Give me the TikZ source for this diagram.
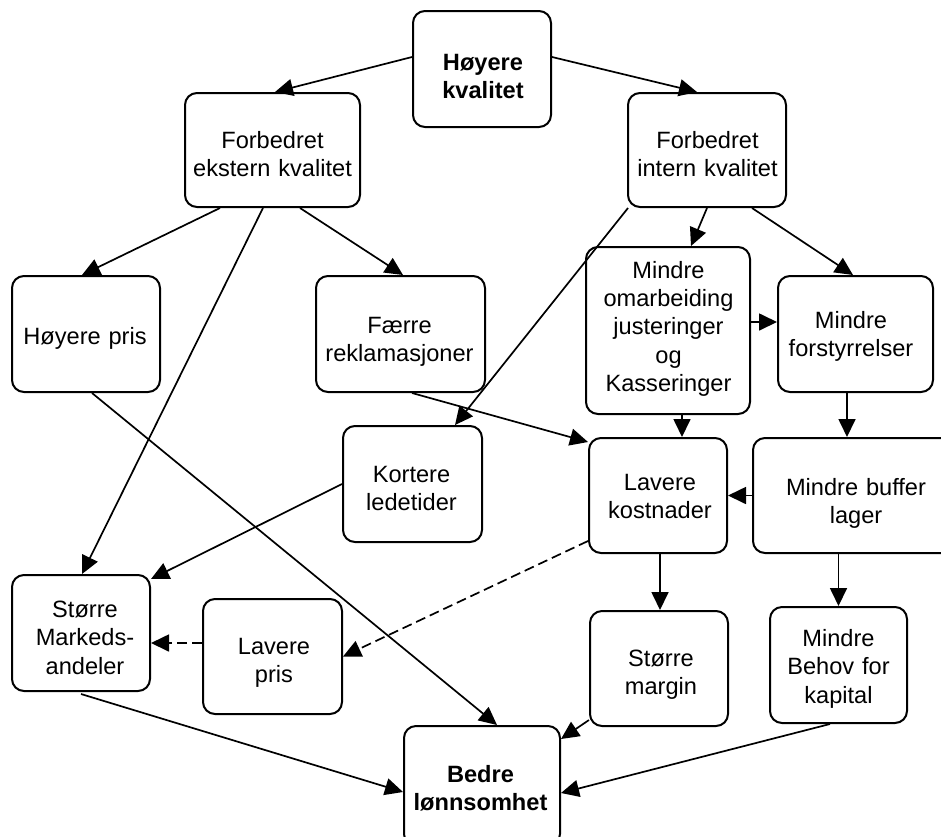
\documentclass[tikz,border=0pt]{standalone}
\usepackage{fontspec}
\setmainfont{Liberation Sans}
\usetikzlibrary{arrows.meta}
\begin{document}
\begin{tikzpicture}[x=1pt,y=-1pt,
  box/.style={draw, line width=2pt, rounded corners=12pt, inner sep=0pt},
  txt/.style={anchor=base, align=center, text width=220pt, inner sep=0pt,
    font=\fontsize{23.6}{28.5}\selectfont},
  btxt/.style={txt, font=\fontsize{23.6}{28}\selectfont\bfseries},
  arr/.style={line width=1.7pt, -{Triangle[length=18pt,width=17pt]}},
  darr/.style={arr, dash pattern=on 10pt off 5pt}]
\useasboundingbox (0,0) rectangle (941,836);

% boxes
\node[box, minimum width=138pt, minimum height=116pt] (hk)  at (482,69) {};
\node[box, minimum width=175pt, minimum height=114pt] (fek) at (272.5,150) {};
\node[box, minimum width=158pt, minimum height=114pt] (fik) at (707,150) {};
\node[box, minimum width=148pt, minimum height=116pt] (hp)  at (86,334) {};
\node[box, minimum width=169pt, minimum height=116pt] (fr)  at (400.5,334) {};
\node[box, minimum width=164pt, minimum height=167pt] (mo)  at (668,330.5) {};
\node[box, minimum width=155pt, minimum height=116pt] (mf)  at (855.5,334) {};
\node[box, minimum width=139pt, minimum height=116pt] (kl)  at (412.5,484) {};
\node[box, minimum width=138pt, minimum height=115pt] (lk)  at (658,495.5) {};
\node[box, minimum width=206pt, minimum height=115pt] (mb)  at (856,495.5) {};
\node[box, minimum width=138pt, minimum height=116pt] (sm)  at (81,633) {};
\node[box, minimum width=139pt, minimum height=115pt] (lp)  at (272.5,656.5) {};
\node[box, minimum width=138pt, minimum height=115pt] (sma) at (659,668.5) {};
\node[box, minimum width=137pt, minimum height=116pt] (mbk) at (838.5,665) {};
\node[box, minimum width=156pt, minimum height=120pt] (bl)  at (482,786) {};

% texts (placed on the baseline of their first line)
\node[btxt] (hk-t)  at (483,70)    {Høyere\\kvalitet};
\node[txt]  (fek-t) at (272.5,148) {Forbedret\\ekstern kvalitet};
\node[txt]  (fik-t) at (707.5,148) {Forbedret\\intern kvalitet};
\node[txt]  (hp-t)  at (85,344)    {Høyere pris};
\node[txt]  (fr-t)  at (399.5,333) {Færre\\reklamasjoner};
\node[txt, font=\fontsize{23.6}{28.4}\selectfont] (mo-t) at (668.5,278)
  {Mindre\\omarbeiding\\justeringer\\og\\Kasseringer};
\node[txt]  (mf-t)  at (851,328)   {Mindre\\forstyrrelser};
\node[txt]  (kl-t)  at (411.5,482) {Kortere\\ledetider};
\node[txt]  (lk-t)  at (660,490)   {Lavere\\kostnader};
\node[txt]  (mb-t)  at (856,495)   {Mindre buffer\\lager};
\node[txt]  (sm-t)  at (85,617)    {Større\\Markeds-\\andeler};
\node[txt]  (lp-t)  at (274,654)   {Lavere\\pris};
\node[txt]  (sma-t) at (661,666)   {Større\\margin};
\node[txt]  (mbk-t) at (838.5,646) {Mindre\\Behov for\\kapital};
\node[btxt] (bl-t)  at (480.5,782) {Bedre\\lønnsomhet};

% connectors
\draw[arr] ([yshift=12pt]hk.west) -- ([xshift=2.5pt]fek.north);
\draw[arr] ([yshift=12pt]hk.east) -- ([xshift=-10pt]fik.north);
\draw[arr] ([xshift=-52.5pt]fek.south) -- ([xshift=-4pt]hp.north);
\draw[arr] ([xshift=27.5pt]fek.south) -- ([xshift=2.5pt]fr.north);
\draw[arr] ([xshift=-9.5pt]fek.south) -- ([xshift=1pt]sm.north);
\draw[arr] ([xshift=1pt]fik.south west) -- ([xshift=42.5pt]kl.north);
\draw[arr] (fik.south) -- ([xshift=23pt]mo.north);
\draw[arr] ([xshift=45pt]fik.south) -- ([xshift=-2.5pt]mf.north);
\draw[arr] ([yshift=8.5pt]mo.east) -- ([yshift=12pt]mf.west);
\draw[arr] ([xshift=11.5pt]fr.south) -- ([yshift=-5pt]lk.north west);
\draw[arr] ([xshift=14pt]mo.south) -- ([xshift=24pt]lk.north);
\draw[arr] ([xshift=-8.5pt]mf.south) -- ([xshift=-9pt]mb.north);
\draw[arr] (mb.west) -- (lk.east);
\draw[arr] ([xshift=2pt]lk.south) -- ([xshift=1pt]sma.north);
\draw[arr] ([xshift=-17.5pt]mb.south) -- (mbk.north);
\draw[darr] ([yshift=-45.5pt]lk.west) -- (lp.east);
\draw[darr] ([yshift=13.5pt]lp.west) -- ([yshift=-10pt]sm.east);
\draw[arr] (kl.west) -- ([yshift=-5pt]sm.north east);
\draw[arr] ([xshift=6pt]hp.south) -- ([xshift=15pt]bl.north);
\draw[arr] ([yshift=-2pt]sm.south) -- ([yshift=-6pt]bl.west);
\draw[arr] ([yshift=7pt]sma.south west) -- ([yshift=-14pt]bl.north east);
\draw[arr] ([xshift=-8.5pt]mbk.south) -- ([yshift=-7pt]bl.east);
\end{tikzpicture}
\end{document}
